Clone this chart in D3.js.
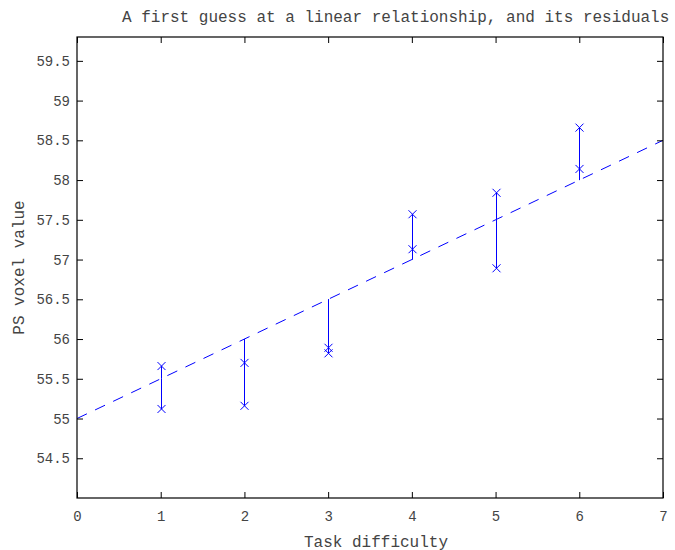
<!DOCTYPE html>
<html>
<head>
<meta charset="utf-8">
<script src="https://cdn.jsdelivr.net/npm/d3@7"></script>
<style>
  body { margin: 0; background: #fff; }
  text { font-family: "Liberation Mono", "DejaVu Sans Mono", monospace; fill: #444; }
</style>
</head>
<body>
<div id="chart"></div>
<script>
// data
var difficulty = [1, 1, 2, 2, 3, 3, 4, 4, 5, 5, 6, 6];
var voxel = [55.66, 55.12, 55.70, 55.16, 55.89, 55.82, 57.57, 57.13, 57.84, 56.89, 58.66, 58.14];
var guessX = [0, 7];
var guessY = [55, 58.5];
var xTicks = [0, 1, 2, 3, 4, 5, 6, 7];
var yTicks = [54.5, 55, 55.5, 56, 56.5, 57, 57.5, 58, 58.5, 59, 59.5];

var width = 675, height = 550;
// plot box edges (note: "top" is taken by window.top)
var boxLeft = 77, boxRight = 663, boxTop = 37, boxBottom = 498;
var blue = "#0000ff";

var svg = d3.select("#chart").append("svg")
  .attr("width", width)
  .attr("height", height);

var x = d3.scaleLinear().domain([0, 7]).range([boxLeft, boxRight]);
var y = d3.scaleLinear().domain([54, 59.8]).range([boxBottom, boxTop]);

// the guessed line y = 55 + 0.5x
var guessAt = function(d) { return guessY[0] + (guessY[1] - guessY[0]) * (d - guessX[0]) / (guessX[1] - guessX[0]); };

// residual sticks
svg.append("g").selectAll("line")
  .data(difficulty)
  .enter().append("line")
  .attr("x1", function(d) { return Math.round(x(d)) + 0.5; })
  .attr("x2", function(d) { return Math.round(x(d)) + 0.5; })
  .attr("y1", function(d) { return y(guessAt(d)); })
  .attr("y2", function(d, i) { return y(voxel[i]); })
  .attr("stroke", blue)
  .attr("stroke-width", 1);

// dashed fit
svg.append("line")
  .attr("x1", x(guessX[0])).attr("y1", y(guessY[0]))
  .attr("x2", x(guessX[1])).attr("y2", y(guessY[1]))
  .attr("stroke", blue)
  .attr("stroke-width", 1)
  .attr("stroke-dasharray", "11,9");

// x markers
var m = 4;
svg.append("g").selectAll("path")
  .data(difficulty)
  .enter().append("path")
  .attr("d", function(d, i) {
    var cx = Math.round(x(d)) + 0.5, cy = y(voxel[i]);
    return "M" + (cx - m) + "," + (cy - m) + "L" + (cx + m) + "," + (cy + m) +
      "M" + (cx - m) + "," + (cy + m) + "L" + (cx + m) + "," + (cy - m);
  })
  .attr("stroke", blue)
  .attr("stroke-width", 1)
  .attr("fill", "none");

// box with inward ticks on all four sides
var tick = 6;
svg.append("g")
  .attr("transform", "translate(0," + boxBottom + ")")
  .call(d3.axisBottom(x).tickValues(xTicks).tickSizeInner(-tick).tickSizeOuter(0).tickPadding(13).tickFormat(d3.format("d")));
svg.append("g")
  .attr("transform", "translate(0," + boxTop + ")")
  .call(d3.axisTop(x).tickValues(xTicks).tickSizeInner(-tick).tickSizeOuter(0).tickFormat(""));
svg.append("g")
  .attr("transform", "translate(" + boxLeft + ",0)")
  .call(d3.axisLeft(y).tickValues(yTicks).tickSizeInner(-tick).tickSizeOuter(0).tickPadding(7).tickFormat(function(d) { return String(d); }));
svg.append("g")
  .attr("transform", "translate(" + boxRight + ",0)")
  .call(d3.axisRight(y).tickValues(yTicks).tickSizeInner(-tick).tickSizeOuter(0).tickFormat(""));

svg.selectAll(".domain").remove();
svg.selectAll(".tick line").attr("stroke", "#000");
svg.selectAll(".tick text")
  .style("font-family", "'Liberation Mono', monospace")
  .style("font-size", "14px")
  .attr("fill", "#444");

svg.append("rect")
  .attr("x", boxLeft).attr("y", boxTop)
  .attr("width", boxRight - boxLeft).attr("height", boxBottom - boxTop)
  .attr("fill", "none")
  .attr("stroke", "#000")
  .attr("stroke-width", 1.2);

// labels
svg.append("text")
  .attr("x", 122).attr("y", 22)
  .style("font-size", "16px")
  .attr("fill", "#222")
  .text("A first guess at a linear relationship, and its residuals");

svg.append("text")
  .attr("x", 376).attr("y", 547)
  .attr("text-anchor", "middle")
  .style("font-size", "16px")
  .text("Task difficulty");

svg.append("text")
  .attr("transform", "translate(24," + ((boxTop + boxBottom) / 2) + ")rotate(-90)")
  .attr("text-anchor", "middle")
  .style("font-size", "16px")
  .text("PS voxel value");
</script>
</body>
</html>
